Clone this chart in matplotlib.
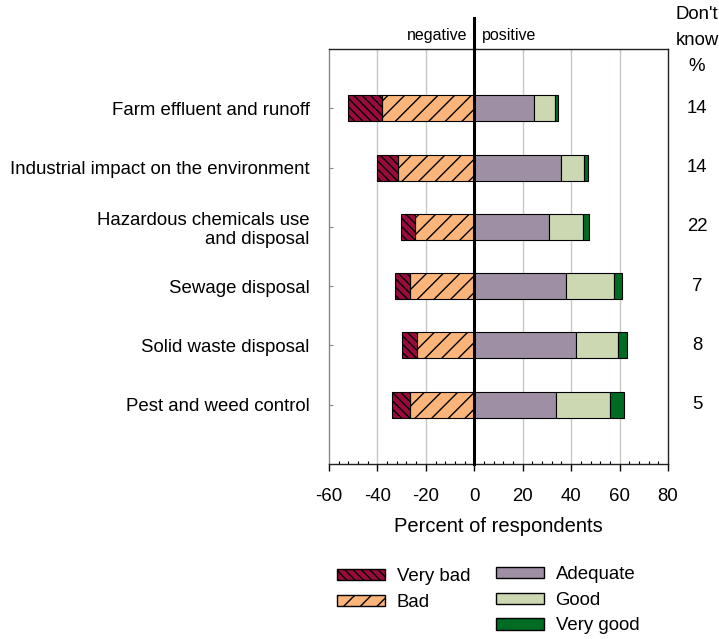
import matplotlib.pyplot as plt
import matplotlib.transforms as mtransforms
from matplotlib.patches import Patch
import numpy as np

plt.rcParams['font.family'] = ['Liberation Sans', 'DejaVu Sans']
plt.rcParams['hatch.linewidth'] = 1.0
plt.rcParams['axes.unicode_minus'] = False

# dados
categorias = ['Farm effluent and runoff',
              'Industrial impact on the environment',
              'Hazardous chemicals use\nand disposal',
              'Sewage disposal',
              'Solid waste disposal',
              'Pest and weed control']
muito_ruim = [14, 8.5, 6, 6, 6.2, 7.5]
ruim = [38, 31.7, 24.4, 26.7, 23.8, 26.4]
adequado = [24.5, 36, 31, 38, 42, 33.7]
bom = [9, 9.5, 14, 19.5, 17.4, 22.5]
muito_bom = [1.2, 1.3, 2.5, 3.7, 3.5, 5.8]
nao_sabe = [14, 14, 22, 7, 8, 5]

cores = {'Very bad': '#9a0b3d', 'Bad': '#fbb57a', 'Adequate': '#9f8fa5',
         'Good': '#cbd8b1', 'Very good': '#006b23'}
hatch_mr = '\\\\\\\\'
hatch_r = '//'

fig = plt.figure(figsize=(7.19, 6.39), dpi=100)
ax = fig.add_axes([329/719, 1 - 464/639, 339/719, 415/639])

y = np.arange(1, len(categorias) + 1)
h = 0.44
kw = dict(height=h, edgecolor='black', linewidth=0.8, zorder=3)

ruim_arr = np.array(ruim)
mr_arr = np.array(muito_ruim)
ax.barh(y, -ruim_arr, left=0, color=cores['Bad'], hatch=hatch_r, **kw)
ax.barh(y, -mr_arr, left=-ruim_arr, color=cores['Very bad'], hatch=hatch_mr, **kw)

ad = np.array(adequado)
bo = np.array(bom)
ax.barh(y, ad, left=0, color=cores['Adequate'], **kw)
ax.barh(y, bo, left=ad, color=cores['Good'], **kw)
ax.barh(y, muito_bom, left=ad + bo, color=cores['Very good'], **kw)

ax.set_xlim(-60, 80)
ax.set_ylim(7, 0)
ax.set_xticks(np.arange(-60, 81, 20))
ax.set_xticks(np.arange(-60, 81, 4), minor=True)
ax.set_yticks(y)
ax.set_yticklabels(categorias, fontsize=13.4)
ax.tick_params(axis='x', labelsize=13.4, length=5, width=1, direction='out', pad=12)
ax.tick_params(axis='x', which='minor', length=2, direction='in', width=0.8)
ax.tick_params(axis='y', length=3, direction='in', color='#888888', pad=14)
ax.set_xlabel('Percent of respondents', fontsize=14.5, labelpad=9)

for xv in [-40, -20, 20, 40, 60]:
    ax.axvline(xv, color='#c8c8c0', linewidth=1, zorder=1)

for s in ax.spines.values():
    s.set_linewidth(1)
    s.set_color('#222222')
ax.spines['left'].set_color('#888888')

# linha do zero, passa acima do eixo
ax.plot([0, 0], [7, -0.53], color='black', linewidth=2.2, zorder=5, clip_on=False)

ax.text(-2.8, -0.1, 'negative', ha='right', va='bottom', fontsize=11.5)
ax.text(3, -0.1, 'positive', ha='left', va='bottom', fontsize=11.5)

trans = mtransforms.blended_transform_factory(ax.transAxes, ax.transData)
xdk = (697 - 329) / 339
ax.text(xdk, -0.14, "Don't\nknow\n%", transform=trans, ha='center', va='center',
        fontsize=13.4, linespacing=1.68)
for yi, v in zip(y, nao_sabe):
    ax.text(xdk, yi, str(v), transform=trans, ha='center', va='center', fontsize=13.4)

h1 = [Patch(facecolor=cores['Very bad'], edgecolor='black', hatch=hatch_mr, label='Very bad'),
      Patch(facecolor=cores['Bad'], edgecolor='black', hatch=hatch_r, label='Bad')]
h2 = [Patch(facecolor=cores['Adequate'], edgecolor='black', label='Adequate'),
      Patch(facecolor=cores['Good'], edgecolor='black', label='Good'),
      Patch(facecolor=cores['Very good'], edgecolor='black', label='Very good')]
lk = dict(frameon=False, fontsize=13.4, handlelength=2.6, handleheight=0.55,
          labelspacing=0.47, handletextpad=0.6, borderpad=0, borderaxespad=0)
fig.legend(handles=h1, loc='upper left', bbox_to_anchor=(337/719, 1 - 568/639), **lk)
fig.legend(handles=h2, loc='upper left', bbox_to_anchor=(496/719, 1 - 566/639), **lk)

fig.savefig('out.png', dpi=100)
